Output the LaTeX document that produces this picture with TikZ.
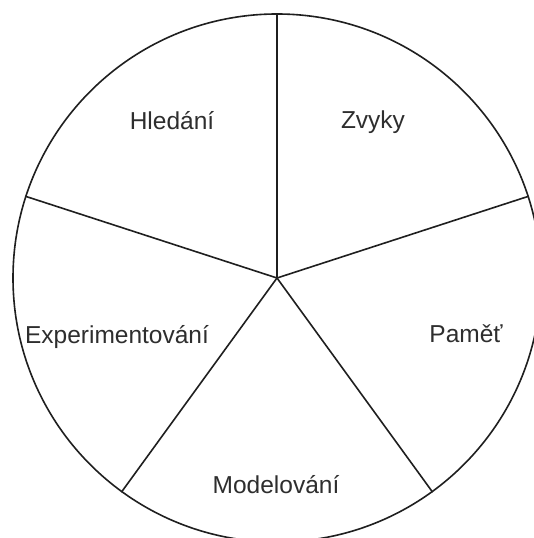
\documentclass[tikz,border=0pt]{standalone}
\usepackage{fontspec}
\setmainfont{Liberation Sans}
\begin{document}
\begin{tikzpicture}[x=1pt,y=1pt,
  wheel/.style={circle,draw=black!88,line width=1.6pt,minimum size=528pt,inner sep=0pt},
  spoke/.style={draw=black!88,line width=1.6pt},
  lbl/.style={anchor=base,text=black!82,font=\fontsize{24.5}{28}\selectfont,inner sep=0pt}]
\useasboundingbox (0,0) rectangle (534,538);
\fill[white] (0,0) rectangle (534,538);
\node[wheel] (c) at (277,260) {};
\foreach \a in {90,162,234,306,18} {\draw[spoke] (c.center) -- (c.\a);}
\node[lbl] (h) at (172,408) {Hledání};
\node[lbl] (z) at (373,409) {Zvyky};
\node[lbl] (e) at (117,194) {Experimentování};
\node[lbl] (p) at (466,195) {Paměť};
\node[lbl] (m) at (276,44) {Modelování};
\end{tikzpicture}
\end{document}
